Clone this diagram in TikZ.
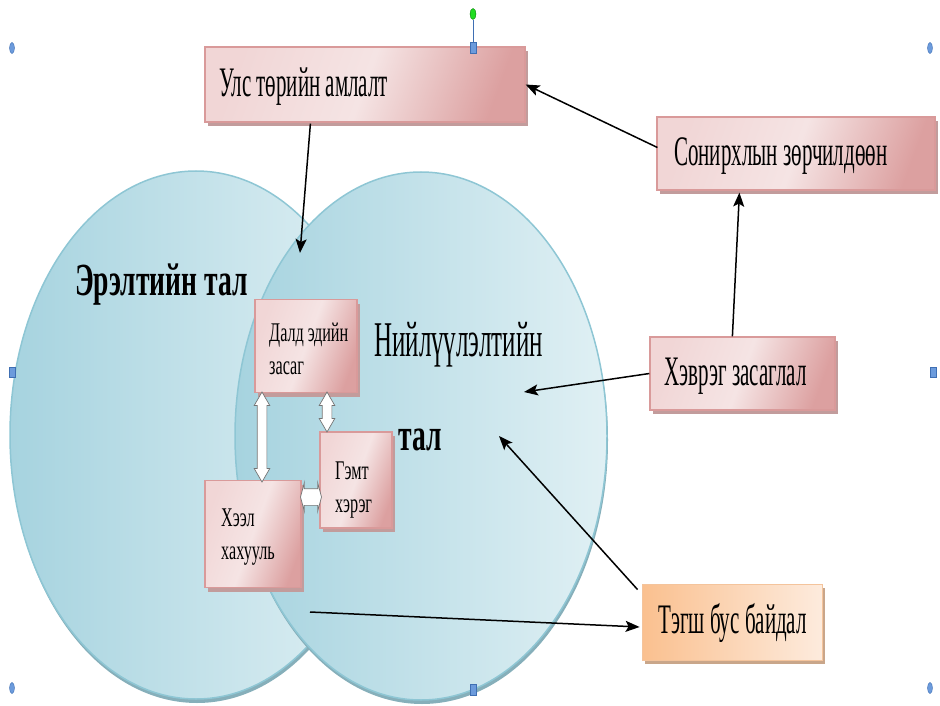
\documentclass[tikz,border=0pt]{standalone}
\usepackage{fontspec}
\setmainfont{Liberation Serif}[FakeStretch=0.5]
\newfontfamily\smallserif{Liberation Serif}[FakeStretch=0.6]
\newfontfamily\labelserif{Liberation Serif}[FakeStretch=0.6]
\usetikzlibrary{shadows,arrows.meta,shapes.arrows,shapes.geometric,calc}
\definecolor{ellL}{HTML}{A6D3DF}
\definecolor{ellR}{HTML}{E0F0F4}
\definecolor{ellB}{HTML}{8EC6D4}
\definecolor{ellS}{HTML}{86AFBA}
\definecolor{pinkL}{HTML}{F1D6D6}
\definecolor{pinkM}{HTML}{F5E4E4}
\definecolor{pinkD}{HTML}{DCA0A0}
\definecolor{pinkB}{HTML}{D99A9A}
\definecolor{pinkS}{HTML}{C29C9C}
\definecolor{orL}{HTML}{FAC08F}
\definecolor{orR}{HTML}{FDEBDD}
\definecolor{orB}{HTML}{F4C49C}
\definecolor{orS}{HTML}{C9A68A}
\definecolor{hB}{HTML}{6C9BDC}
\definecolor{hD}{HTML}{3F6FB3}
\definecolor{hG}{HTML}{22DD22}
\begin{document}
\begin{tikzpicture}[x=1pt,y=-1pt,
  bubble/.style={ellipse, draw=ellB, line width=1.5pt, inner sep=0pt,
    left color=ellL, right color=ellR,
    drop shadow={shadow xshift=1pt, shadow yshift=-4pt, fill=ellS, opacity=1}},
  pinkbox/.style={rectangle, draw=pinkB, line width=1.2pt, inner sep=0pt,
    left color=pinkL, right color=pinkD, middle color=pinkM, shading angle=70,
    drop shadow={shadow xshift=3pt, shadow yshift=-4pt, fill=pinkS, opacity=1}},
  orbox/.style={rectangle, draw=orB, line width=0.8pt, inner sep=0pt,
    left color=orL, right color=orR,
    drop shadow={shadow xshift=3pt, shadow yshift=-4pt, fill=orS, opacity=1}},
  bigt/.style={inner sep=0pt, anchor=west, font=\fontsize{42}{42}\selectfont},
  smallt/.style={inner sep=0pt, anchor=west, align=left, font=\smallserif\fontsize{27}{33}\selectfont},
  labt/.style={inner sep=0pt, anchor=west, font=\labelserif\bfseries\fontsize{46}{46}\selectfont},
  labr/.style={inner sep=0pt, anchor=west, font=\fontsize{50}{50}\selectfont},
  arr/.style={-{Stealth[length=14pt,width=11pt,inset=3pt]}, line width=1.5pt, black},
  dbl/.style={double arrow, draw=black!55, fill=white, line width=0.7pt, inner xsep=0pt},
  handle/.style={ellipse, fill=hB, draw=hD, line width=0.4pt, minimum width=5, minimum height=11, inner sep=0pt},
  hsq/.style={rectangle, fill=hB, draw=hD, line width=0.4pt, minimum width=6, minimum height=11, inner sep=0pt}
]
\useasboundingbox (0,0) rectangle (940,706);

% bubbles
\node[bubble, minimum width=372, minimum height=528] (dem) at (196,435) {};
\node[bubble, minimum width=372, minimum height=528] (sup) at (421,436) {};

% labels
\node[labt] (demT) at (75,285) {Эрэлтийн тал};
\node[labr] (supT) at (374,345) {Нийлүүлэлтийн};
\node[labt] (supT2) at (398,440) {тал};

% boxes
\node[pinkbox, minimum width=320, minimum height=75] (uls) at (365,84.5) {};
\node[bigt] (ulsT) at (219,87) {Улс төрийн амлалт};
\node[pinkbox, minimum width=278, minimum height=73] (son) at (796,153.5) {};
\node[bigt] (sonT) at (674,156) {Сонирхлын зөрчилдөөн};
\node[pinkbox, minimum width=185, minimum height=73] (hev) at (742.5,373.5) {};
\node[bigt] (hevT) at (664,376) {Хэврэг засаглал};
\node[orbox, minimum width=180, minimum height=76] (teg) at (732,622) {};
\node[bigt] (tegT) at (658,623) {Тэгш бус байдал};

\node[pinkbox, minimum width=102, minimum height=93] (dal) at (306,346) {};
\node[smallt] (dalT) at (269,349) {Далд эдийн\\засаг};
\node[pinkbox, minimum width=72, minimum height=96] (gem) at (356,480) {};
\node[smallt] (gemT) at (335,490) {Гэмт\\хэрэг};
\node[pinkbox, minimum width=96, minimum height=107] (hee) at (253,534) {};
\node[smallt] (heeT) at (221,537) {Хээл\\хахууль};

% double arrows
\node[dbl, rotate=90, minimum height=90, inner ysep=4.5pt, double arrow head extend=3pt, double arrow tip angle=60] (d1) at (262,437) {};
\node[dbl, rotate=90, minimum height=40, inner ysep=4.5pt, double arrow head extend=3pt, double arrow tip angle=60] (d2) at (327,412) {};
\node[dbl, minimum height=21, inner ysep=8pt, double arrow head extend=6pt, double arrow tip angle=150] (d3) at (311,497) {};

% arrows
\coordinate (p1) at (300,253);
\coordinate (p4) at (524,392);
\coordinate (p5) at (499,436);
\coordinate (q6) at (310,612);
\draw[arr] ($(uls.south west)+(106,1)$) -- (p1);
\draw[arr] ($(son.west)+(1,-6)$) -- (uls.east);
\draw[arr] ($(hev.north west)+(83,0)$) -- ($(son.south west)+(83,2)$);
\draw[arr] (hev.west) -- (p4);
\draw[arr] ($(teg.north west)+(-4,6)$) -- (p5);
\draw[arr] (q6) -- ($(teg.west)+(-2,5)$);

% selection handles
\node[handle] (h1) at (12,48) {};
\node[hsq] (h2) at (473,48) {};
\node[handle] (h3) at (930,48) {};
\node[hsq, minimum width=6, minimum height=10] (h4) at (12,372) {};
\node[hsq, minimum width=6, minimum height=10] (h5) at (933,372) {};
\node[handle] (h6) at (12,688) {};
\node[hsq] (h7) at (473,690) {};
\node[handle] (h8) at (930,688) {};
\node[ellipse, fill=hG, draw=green!50!black, line width=0.4pt, minimum width=6, minimum height=11, inner sep=0pt] (hg) at (473,14) {};
\draw[hD, line width=0.6pt] (hg.south) -- (h2.north);
\end{tikzpicture}
\end{document}
